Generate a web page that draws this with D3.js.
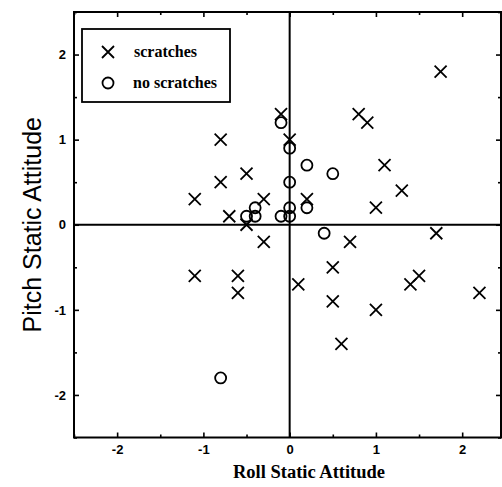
<!DOCTYPE html>
<html>
<head>
<meta charset="utf-8">
<script src="https://cdn.jsdelivr.net/npm/d3@7"></script>
<style>
  body { margin: 0; background: #fff; }
  svg { display: block; }
</style>
</head>
<body>
<script>
const W = 502, H = 487;
const plot = { left: 74, top: 12, right: 501, bottom: 437.5 };

// scratches (x marks): roll, pitch
const scratchRoll  = [-1.1, -0.8, -0.8, -0.7, -0.5, -0.5, -0.3, -0.3, -0.1, 0.0, 0.2, 0.8, 0.9, 1.1, 1.3, 1.0, 1.75, 0.1, 0.5, 0.7, 1.7, -1.1, -0.6, -0.6, 0.5, 0.6, 1.0, 1.4, 1.5, 2.2];
const scratchPitch = [ 0.3,  1.0,  0.5,  0.1,  0.6,  0.0,  0.3, -0.2,  1.3, 1.0, 0.3, 1.3, 1.2, 0.7, 0.4, 0.2, 1.8, -0.7, -0.5, -0.2, -0.1, -0.6, -0.6, -0.8, -0.9, -1.4, -1.0, -0.7, -0.6, -0.8];

// no scratches (circles)
const cleanRoll  = [-0.1, 0.0, 0.0, 0.2, 0.5, -0.5, -0.4, -0.4, -0.1, 0.0, 0.0, 0.2, 0.4, -0.8];
const cleanPitch = [ 1.2, 0.9, 0.5, 0.7, 0.6,  0.1,  0.2,  0.1,  0.1, 0.2, 0.1, 0.2, -0.1, -1.8];

const majorTicks = [-2, -1, 0, 1, 2];
const minorTicks = [-2.5, -1.5, -0.5, 0.5, 1.5, 2.5];

const svg = d3.select('body').append('svg')
    .attr('width', W)
    .attr('height', H);

const x = d3.scaleLinear().domain([-2.5, 2.45]).range([plot.left, plot.right]);
const y = d3.scaleLinear().domain([-2.5, 2.5]).range([plot.bottom, plot.top]);

const tickFont = 'Liberation Sans, Arial, sans-serif';
const plain = d => String(d);   // hyphen minus like the original

function styleAxis(g) {
    g.select('.domain').remove();
    g.selectAll('line').attr('stroke', '#000').attr('stroke-width', 1.6);
    g.selectAll('text')
        .style('font-family', tickFont)
        .style('font-weight', 'bold')
        .style('font-size', '13px')
        .attr('fill', '#000');
}

// bottom axis
svg.append('g').attr('transform', `translate(0,${plot.bottom})`)
    .call(d3.axisBottom(x).tickValues(majorTicks).tickSize(-5).tickPadding(7).tickFormat(plain))
    .call(styleAxis);
svg.append('g').attr('transform', `translate(0,${plot.bottom})`)
    .call(d3.axisBottom(x).tickValues(minorTicks).tickSize(-3).tickFormat(''))
    .call(styleAxis);
// top axis
svg.append('g').attr('transform', `translate(0,${plot.top})`)
    .call(d3.axisTop(x).tickValues(majorTicks).tickSize(-5).tickFormat(''))
    .call(styleAxis);
svg.append('g').attr('transform', `translate(0,${plot.top})`)
    .call(d3.axisTop(x).tickValues(minorTicks).tickSize(-3).tickFormat(''))
    .call(styleAxis);
// left axis
svg.append('g').attr('transform', `translate(${plot.left},0)`)
    .call(d3.axisLeft(y).tickValues(majorTicks).tickSize(-5).tickPadding(8).tickFormat(plain))
    .call(styleAxis);
svg.append('g').attr('transform', `translate(${plot.left},0)`)
    .call(d3.axisLeft(y).tickValues(minorTicks).tickSize(-3).tickFormat(''))
    .call(styleAxis);
// right axis
svg.append('g').attr('transform', `translate(${plot.right},0)`)
    .call(d3.axisRight(y).tickValues(majorTicks).tickSize(-5).tickFormat(''))
    .call(styleAxis);
svg.append('g').attr('transform', `translate(${plot.right},0)`)
    .call(d3.axisRight(y).tickValues(minorTicks).tickSize(-3).tickFormat(''))
    .call(styleAxis);

// frame
svg.append('rect')
    .attr('x', plot.left).attr('y', plot.top)
    .attr('width', plot.right - plot.left).attr('height', plot.bottom - plot.top)
    .attr('fill', 'none').attr('stroke', '#000').attr('stroke-width', 2);

// zero lines
svg.append('line')
    .attr('x1', x(0)).attr('x2', x(0)).attr('y1', plot.top).attr('y2', plot.bottom)
    .attr('stroke', '#000').attr('stroke-width', 2);
svg.append('line')
    .attr('x1', plot.left).attr('x2', plot.right).attr('y1', y(0)).attr('y2', y(0))
    .attr('stroke', '#000').attr('stroke-width', 2);

// x marks
const s = 6;
const crossPath = (cx, cy) => `M${cx - s},${cy - s}L${cx + s},${cy + s}M${cx - s},${cy + s}L${cx + s},${cy - s}`;

svg.append('g').selectAll('path')
    .data(scratchRoll.map((r, i) => [r, scratchPitch[i]]))
    .enter().append('path')
    .attr('d', d => crossPath(x(d[0]), y(d[1])))
    .attr('stroke', '#000').attr('stroke-width', 1.8).attr('fill', 'none');

// circles
svg.append('g').selectAll('circle')
    .data(cleanRoll.map((r, i) => [r, cleanPitch[i]]))
    .enter().append('circle')
    .attr('cx', d => x(d[0]))
    .attr('cy', d => y(d[1]))
    .attr('r', 5.5)
    .attr('fill', 'none').attr('stroke', '#000').attr('stroke-width', 1.8);

// legend
const legend = svg.append('g').attr('transform', 'translate(82,29)');
legend.append('rect')
    .attr('width', 148).attr('height', 73)
    .attr('fill', '#fff').attr('stroke', '#000').attr('stroke-width', 1.8);
const lx = 26;
legend.append('path')
    .attr('d', crossPath(lx, 23))
    .attr('stroke', '#000').attr('stroke-width', 1.8);
legend.append('circle')
    .attr('cx', lx).attr('cy', 54).attr('r', 5.5)
    .attr('fill', 'none').attr('stroke', '#000').attr('stroke-width', 1.8);
legend.selectAll('text.lab')
    .data(['scratches', 'no scratches'])
    .enter().append('text')
    .attr('class', 'lab')
    .attr('x', (d, i) => i === 0 ? 52 : 51)
    .attr('y', (d, i) => i === 0 ? 28 : 59)
    .text(d => d)
    .style('font-family', 'Liberation Serif, Times New Roman, serif')
    .style('font-weight', 'bold')
    .style('font-size', '16px');

// axis titles
svg.append('text')
    .attr('x', 309)
    .attr('y', 478)
    .attr('text-anchor', 'middle')
    .text('Roll Static Attitude')
    .style('font-family', 'Liberation Serif, Times New Roman, serif')
    .style('font-weight', 'bold')
    .style('font-size', '18.5px');

svg.append('text')
    .attr('transform', `translate(41,${y(0)}) rotate(-90)`)
    .attr('text-anchor', 'middle')
    .text('Pitch Static Attitude')
    .style('font-family', 'Liberation Sans, Arial, sans-serif')
    .style('font-size', '25px');
</script>
</body>
</html>
